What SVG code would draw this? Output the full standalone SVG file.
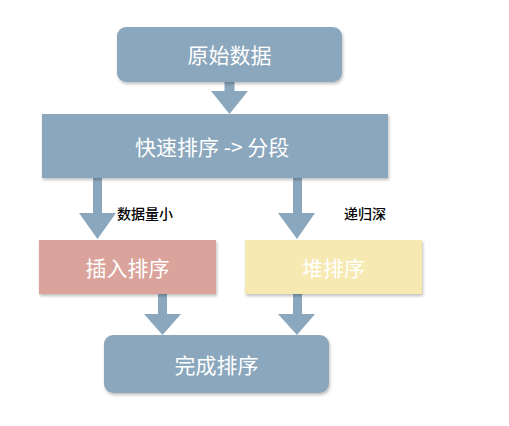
<svg xmlns="http://www.w3.org/2000/svg" width="509" height="426" viewBox="0 0 509 426">
<defs>
<filter id="sh" x="-10%" y="-10%" width="120%" height="130%">
<feDropShadow dx="1" dy="2" stdDeviation="1.5" flood-color="#000" flood-opacity="0.25"/>
</filter>
</defs>
<style>
.blue{fill:#8AA7BD}
.node text{font-family:"Noto Sans CJK SC","Noto Sans",sans-serif;font-size:21px;fill:#ffffff;text-anchor:middle;dominant-baseline:central}
.lbl{font-family:"Noto Sans CJK SC","Noto Sans",sans-serif;font-size:14px;fill:#000;font-weight:500;dominant-baseline:central}
.arrow{fill:#8AA7BD}
</style>
<rect width="509" height="426" fill="#ffffff"/>
<g id="connectors">
<polygon class="arrow" points="224.5,82 234.5,82 234.5,91 248,91 229.5,114 211,91 224.5,91"/>
<polygon class="arrow" points="93,178 102,178 102,213 116,213 97.5,239 79,213 93,213"/>
<polygon class="arrow" points="293,178 302,178 302,213 315,213 297,239 278,213 293,213"/>
<polygon class="arrow" points="158,293 167,293 167,314 181,314 162.5,335 144,314 158,314"/>
<polygon class="arrow" points="293,293 302,293 302,314 315,314 297,335 278,314 293,314"/>
<text class="lbl" x="117" y="213">数据量小</text>
<text class="lbl" x="344" y="213">递归深</text>
</g>
<g id="n1" class="node">
<rect x="117" y="27" width="225" height="55" rx="9" class="blue" filter="url(#sh)"/>
<text x="229.5" y="54">原始数据</text>
</g>
<g id="n2" class="node">
<rect x="42" y="114" width="346" height="64" class="blue" filter="url(#sh)"/>
<text x="135" y="146" style="text-anchor:start">快速排序 -&gt; 分段</text>
</g>
<g id="n3" class="node">
<rect x="39" y="240" width="177" height="54" fill="#DAA39B" filter="url(#sh)"/>
<text x="127.5" y="267">插入排序</text>
</g>
<g id="n4" class="node">
<rect x="245" y="240" width="177" height="54" fill="#F6E9B2" filter="url(#sh)"/>
<text x="333.5" y="267">堆排序</text>
</g>
<g id="n5" class="node">
<rect x="104" y="335" width="225" height="58" rx="9" class="blue" filter="url(#sh)"/>
<text x="216.5" y="364">完成排序</text>
</g>
</svg>
